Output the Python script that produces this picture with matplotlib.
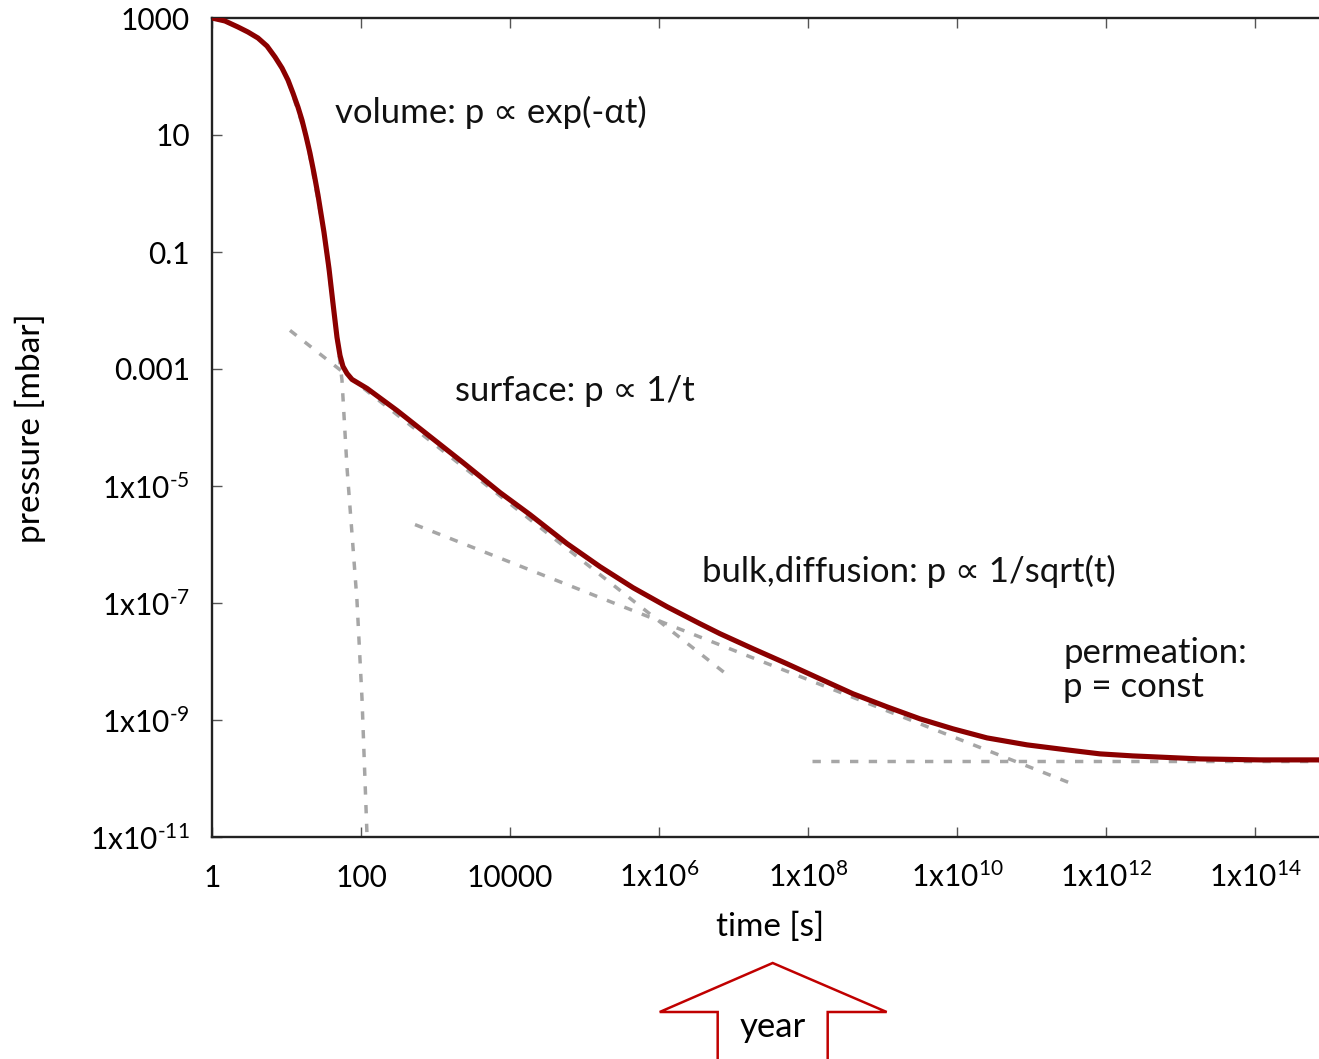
import numpy as np
import matplotlib
matplotlib.use('Agg')
import matplotlib.pyplot as plt
from matplotlib.patches import Polygon
from matplotlib.transforms import IdentityTransform

plt.rcParams['font.family'] = ['Lato', 'DejaVu Sans']
plt.rcParams['mathtext.fontset'] = 'custom'
plt.rcParams['mathtext.rm'] = 'Lato'
plt.rcParams['mathtext.it'] = 'Lato:italic'
plt.rcParams['mathtext.bf'] = 'Lato:bold'

# pump-down curve (log10 of time [s], log10 of pressure [mbar])
curve_log_t = [0.0, 0.174, 0.349, 0.483, 0.617, 0.738, 0.846, 0.940, 1.020, 1.087,
               1.154, 1.208, 1.262, 1.315, 1.369, 1.423, 1.503, 1.570, 1.624, 1.678,
               1.718, 1.758, 1.812, 1.879, 2.081, 2.483, 2.926, 3.369, 3.866, 4.268,
               4.765, 5.208, 5.651, 6.107, 6.550, 6.819, 7.262, 7.718, 8.161, 8.604,
               9.060, 9.503, 9.946, 10.403, 10.940, 11.477, 11.919, 12.362, 13.262,
               14.067, 14.9]
curve_log_p = [3.0, 2.949, 2.846, 2.760, 2.658, 2.521, 2.333, 2.144, 1.939, 1.716,
               1.477, 1.254, 0.980, 0.690, 0.347, -0.029, -0.662, -1.279, -1.878, -2.460,
               -2.768, -2.956, -3.076, -3.178, -3.332, -3.709, -4.154, -4.599, -5.112, -5.489,
               -5.985, -6.379, -6.738, -7.063, -7.354, -7.525, -7.782, -8.039, -8.296, -8.552,
               -8.775, -8.980, -9.151, -9.306, -9.425, -9.511, -9.579, -9.614, -9.665,
               -9.682, -9.682]

# asymptotes (dashed)
vol_log_t = [1.020, 1.262, 1.503, 1.678, 1.745, 1.812, 1.879, 1.946, 2.013, 2.081]
vol_log_p = [1.939, 0.980, -0.662, -2.460, -3.195, -4.684, -5.814, -6.961, -8.621, -10.98]
surf_log_t = [1.047, 6.966]
surf_log_p = [-2.340, -8.279]
bulk_log_t = [2.725, 11.584]
bulk_log_p = [-5.660, -10.110]
perm_log_t = [8.054, 14.9]
perm_log_p = [-9.70, -9.70]

xticks = [1, 1e2, 1e4, 1e6, 1e8, 1e10, 1e12, 1e14]
xlabels = ['1', '100', '10000', r'1x10$^{6}$', r'1x10$^{8}$', r'1x10$^{10}$',
           r'1x10$^{12}$', r'1x10$^{14}$']
yticks = [1e3, 10, 0.1, 1e-3, 1e-5, 1e-7, 1e-9, 1e-11]
ylabels = ['1000', '10', '0.1', '0.001', r'1x10$^{\text{-5}}$', r'1x10$^{\text{-7}}$',
           r'1x10$^{\text{-9}}$', r'1x10$^{\text{-11}}$']

year_s = 3.156e7

W, H = 1319, 1059
fig = plt.figure(figsize=(W / 100, H / 100), dpi=100)
ax = fig.add_axes([212 / W, 1 - 837 / H, (1321 - 212) / W, (837 - 18) / H])
ax.set_xscale('log')
ax.set_yscale('log')

grey = '#a6a6a6'
dash = (2.4, 3.0)
for lt, lp in [(vol_log_t, vol_log_p), (surf_log_t, surf_log_p),
               (bulk_log_t, bulk_log_p), (perm_log_t, perm_log_p)]:
    ax.plot(10 ** np.array(lt), 10 ** np.array(lp), color=grey, lw=2.5,
            dashes=dash, zorder=2)

ax.plot(10 ** np.array(curve_log_t), 10 ** np.array(curve_log_p),
        color='#8b0000', lw=3.7, solid_joinstyle='round', zorder=3)

ax.set_xlim(1, 10 ** ((1321 - 212) / 74.5))
ax.set_ylim(1e-11, 1e3)
ax.minorticks_off()
ax.set_xticks(xticks)
ax.set_xticklabels(xlabels)
ax.set_yticks(yticks)
ax.set_yticklabels(ylabels)
ax.tick_params(which='major', direction='in', length=7, width=1, color='#555555',
               top=True, right=False, labelsize=21.5)
ax.tick_params(axis='y', pad=16)
ax.tick_params(axis='x', pad=36)
for lbl in ax.get_xticklabels():
    lbl.set_va('baseline')
for s in ['left', 'bottom', 'top']:
    ax.spines[s].set_linewidth(1.7)
    ax.spines[s].set_color('#222222')
ax.spines['right'].set_visible(False)

txt = dict(fontsize=25, color='#111111', va='center', ha='left', transform=ax.transAxes)
def axfrac(px, py):
    return (px - 212) / (1321 - 212), (837 - py) / (837 - 18)

ax.text(*axfrac(335, 112), 'volume: p \u221d exp(-\u03b1t)', **txt)
ax.text(*axfrac(455, 391), 'surface: p \u221d 1/t', **txt)
ax.text(*axfrac(702, 571), 'bulk,diffusion: p \u221d 1/sqrt(t)', **txt)
ax.text(*axfrac(1063, 670), 'permeation:\np = const', linespacing=1.1, **txt)

fig.text(770 / W, 1 - 927 / H, 'time [s]', fontsize=24, ha='center', va='center')
fig.text(30 / W, 1 - 428 / H, 'pressure [mbar]', fontsize=24, ha='center', va='center',
         rotation=90)

# "year" arrow under the axis, placed at 1 year on the time axis
cx = ax.transData.transform((year_s, 1))[0] + 2
verts = [(cx, 96), (cx + 114, 47), (cx + 55, 47), (cx + 55, -20), (cx - 55, -20),
         (cx - 55, 47), (cx - 113, 47)]
arrow = Polygon(verts, closed=True, facecolor='white', edgecolor='#c00000', lw=1.8,
                transform=IdentityTransform(), clip_on=False)
fig.add_artist(arrow)
fig.text(cx / W, 32 / H, 'year', fontsize=25, ha='center', va='center')

fig.savefig('out.png', dpi=100)
